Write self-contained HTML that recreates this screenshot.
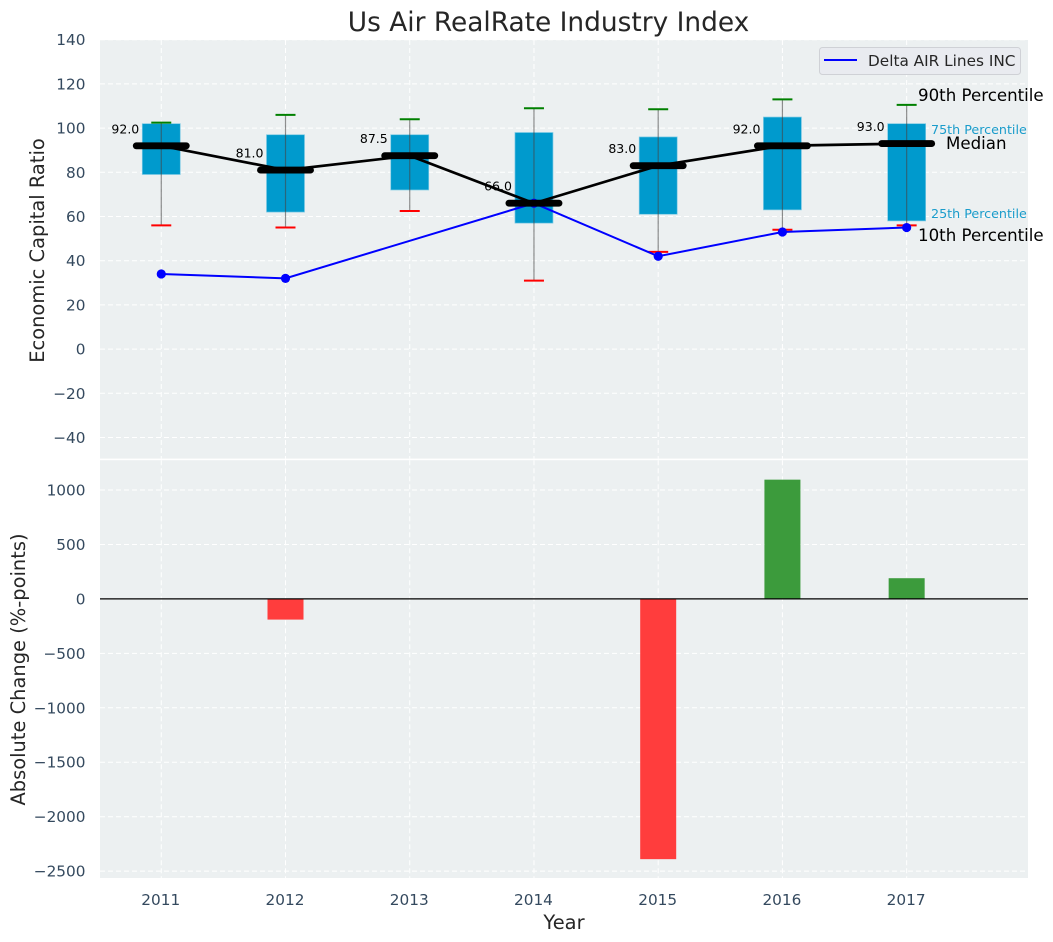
<!DOCTYPE html>
<html>
<head>
<meta charset="utf-8">
<style>
html,body{margin:0;padding:0;background:#fff;}
svg{display:block;font-family:"DejaVu Sans","Liberation Sans",sans-serif;}
</style>
</head>
<body>
<svg id="chart" xmlns="http://www.w3.org/2000/svg" width="1053" height="942" viewBox="0 0 1053 942">
  <rect x="100" y="40" width="928" height="418.6" fill="#ecf0f1"/>
  <rect x="100" y="460.2" width="928" height="417.8" fill="#ecf0f1"/>
  <g id="grid"></g>
  <g id="valueLabels"></g>
  <g id="boxes"></g>
  <g id="bars"></g>
  <g id="peer"></g>
  <g id="median"></g>
  <g id="ticks" fill="#34495e" font-size="15.3"></g>

  <text x="548.5" y="31" text-anchor="middle" font-size="26.4" fill="#262626">Us Air RealRate Industry Index</text>
  <text transform="translate(44,250.5) rotate(-90)" text-anchor="middle" font-size="19.45" fill="#262626">Economic Capital Ratio</text>
  <text transform="translate(25,669.5) rotate(-90)" text-anchor="middle" font-size="19.45" fill="#262626">Absolute Change (%-points)</text>
  <text x="564" y="929" text-anchor="middle" font-size="19.45" fill="#262626">Year</text>

  <g>
    <rect x="819.5" y="47.5" width="201" height="27" rx="3" fill="#e9ebf0" stroke="#cfd1d6" stroke-width="1"/>
    <line x1="824" y1="60" x2="857" y2="60" stroke="#0000ff" stroke-width="2"/>
    <text x="868" y="66" font-size="15.3" fill="#262626">Delta AIR Lines INC</text>
  </g>

  <g>
    <text x="918" y="101" font-size="16.65" fill="#000">90th Percentile</text>
    <text x="931" y="134" font-size="12.7" fill="#1a9ccb">75th Percentile</text>
    <text x="946" y="149" font-size="16.65" fill="#000">Median</text>
    <text x="931" y="218" font-size="12.7" fill="#1a9ccb">25th Percentile</text>
    <text x="918" y="241" font-size="16.65" fill="#000">10th Percentile</text>
  </g>
</svg>
<script>
// Chart data
const years = [2011, 2012, 2013, 2014, 2015, 2016, 2017];
const p90 = [102.5, 106, 104, 109, 108.5, 113, 110.5];
const p75 = [102, 97, 97, 98, 96, 105, 102];
const medians = [92, 81, 87.5, 66, 83, 92, 93];
const p25 = [79, 62, 72, 57, 61, 63, 58];
const p10 = [56, 55, 62.5, 31, 44, 54, 56];
const peerValues = [34, 32, null, 66, 42, 53, 55];
const changes = [null, -190, null, null, -2390, 1095, 190];
const topTicks = [140, 120, 100, 80, 60, 40, 20, 0, -20, -40];
const bottomTicks = [1000, 500, 0, -500, -1000, -1500, -2000, -2500];

// Axis functions
function xAxis(v) { return 100.4 + (v - 2010.51) / (2017.98 - 2010.51) * 928; }
function yTop(v) { return 39.7 + (140 - v) / (140 + 49.6) * 419; }
function yBottom(v) { return 460 + (1275.5 - v) / (1275.5 + 2563) * 418; }
function minus(v) { return String(v).replace('-', '\u2212'); }

const NS = 'http://www.w3.org/2000/svg';
function make(parent, tag) {
  const el = document.createElementNS(NS, tag);
  document.getElementById(parent).appendChild(el);
  return el;
}
function setLine(el, x1, y1, x2, y2, color, width) {
  el.setAttribute('x1', x1);
  el.setAttribute('y1', y1);
  el.setAttribute('x2', x2);
  el.setAttribute('y2', y2);
  el.setAttribute('stroke', color);
  el.setAttribute('stroke-width', width);
}

// Grid
years.forEach(function (yr) {
  const top = make('grid', 'line');
  
  
  setLine(top, xAxis(yr), 40, xAxis(yr), 458.6, '#ffffff', 1);
  top.setAttribute('stroke-dasharray', '5 3');
  const bot = make('grid', 'line');
  
  
  setLine(bot, xAxis(yr), 460.2, xAxis(yr), 878, '#ffffff', 1);
  bot.setAttribute('stroke-dasharray', '5 3');
});
topTicks.forEach(function (t) {
  const g = make('grid', 'line');
  
  
  setLine(g, 100, yTop(t), 1028, yTop(t), '#ffffff', 1);
  g.setAttribute('stroke-dasharray', '5 3');
  const label = make('ticks', 'text');
  
  
  label.setAttribute('x', 85.5);
  label.setAttribute('y', yTop(t) + 5.5);
  label.setAttribute('text-anchor', 'end');
  label.textContent = minus(t);
});
bottomTicks.forEach(function (t) {
  const g = make('grid', 'line');
  
  
  setLine(g, 100, yBottom(t), 1028, yBottom(t), '#ffffff', 1);
  g.setAttribute('stroke-dasharray', '5 3');
  const label = make('ticks', 'text');
  
  
  label.setAttribute('x', 85.5);
  label.setAttribute('y', yBottom(t) + 5.5);
  label.setAttribute('text-anchor', 'end');
  label.textContent = minus(t);
});
years.forEach(function (yr) {
  const label = make('ticks', 'text');
  
  
  label.setAttribute('x', xAxis(yr) - 0.5);
  label.setAttribute('y', 905);
  label.setAttribute('text-anchor', 'middle');
  label.textContent = yr;
});

// Median value labels (sit beneath the boxes and lines)
years.forEach(function (yr, i) {
  const t = make('valueLabels', 'text');
  
  
  t.setAttribute('x', xAxis(yr) - 22);
  t.setAttribute('y', yTop(medians[i]) - 12.5);
  t.setAttribute('text-anchor', 'end');
  t.setAttribute('font-size', '12.5');
  t.setAttribute('fill', '#000');
  t.textContent = medians[i].toFixed(1);
});

// Boxes, whiskers and caps
years.forEach(function (yr, i) {
  const cx = xAxis(yr);
  const box = make('boxes', 'rect');
  
  
  box.setAttribute('x', cx - 19);
  box.setAttribute('y', yTop(p75[i]));
  box.setAttribute('width', 38);
  box.setAttribute('height', yTop(p25[i]) - yTop(p75[i]));
  box.setAttribute('fill', '#009acd');
  box.setAttribute('stroke', '#7cc9e4');
  box.setAttribute('stroke-width', '0.7');
  const whisker = make('boxes', 'line');
  
  
  setLine(whisker, cx, yTop(p90[i]), cx, yTop(p10[i]), '#444444', 1.2);
  whisker.setAttribute('stroke-opacity', '0.6');
  const capHi = make('boxes', 'line');
  
  
  setLine(capHi, cx - 10, yTop(p90[i]), cx + 10, yTop(p90[i]), '#008000', 2);
  const capLo = make('boxes', 'line');
  
  
  setLine(capLo, cx - 10, yTop(p10[i]), cx + 10, yTop(p10[i]), '#ff0000', 2);
});

// Bottom bars
years.forEach(function (yr, i) {
  if (changes[i] === null) return;
  const bar = make('bars', 'rect');
  
  
  bar.setAttribute('x', xAxis(yr) - 18);
  bar.setAttribute('y', Math.min(yBottom(0), yBottom(changes[i])));
  bar.setAttribute('width', 36);
  bar.setAttribute('height', Math.abs(yBottom(changes[i]) - yBottom(0)));
  bar.setAttribute('fill', changes[i] < 0 ? '#ff3d3d' : '#3c9b3c');
});
const zeroLine = make('bars', 'line');


setLine(zeroLine, 100, yBottom(0), 1028, yBottom(0), '#000000', 1.3);

// Delta series
const peerPoints = [];
years.forEach(function (yr, i) {
  if (peerValues[i] !== null) peerPoints.push(xAxis(yr) + ',' + yTop(peerValues[i]));
});
const peerLine = make('peer', 'polyline');


peerLine.setAttribute('points', peerPoints.join(' '));
peerLine.setAttribute('fill', 'none');
peerLine.setAttribute('stroke', '#0000ff');
peerLine.setAttribute('stroke-width', '2');
years.forEach(function (yr, i) {
  if (peerValues[i] === null) return;
  const dot = make('peer', 'circle');
  
  
  dot.setAttribute('cx', xAxis(yr));
  dot.setAttribute('cy', yTop(peerValues[i]));
  dot.setAttribute('r', 4.6);
  dot.setAttribute('fill', '#0000ff');
});

// Median series
const medianLine = make('median', 'polyline');


medianLine.setAttribute('points', years.map(function (yr, i) { return xAxis(yr) + ',' + yTop(medians[i]); }).join(' '));
medianLine.setAttribute('fill', 'none');
medianLine.setAttribute('stroke', '#000000');
medianLine.setAttribute('stroke-width', '2.7');
years.forEach(function (yr, i) {
  const mark = make('median', 'line');
  
  
  setLine(mark, xAxis(yr) - 25, yTop(medians[i]), xAxis(yr) + 25, yTop(medians[i]), '#000000', 6.9);
  mark.setAttribute('stroke-linecap', 'round');
});
</script>
</body>
</html>
